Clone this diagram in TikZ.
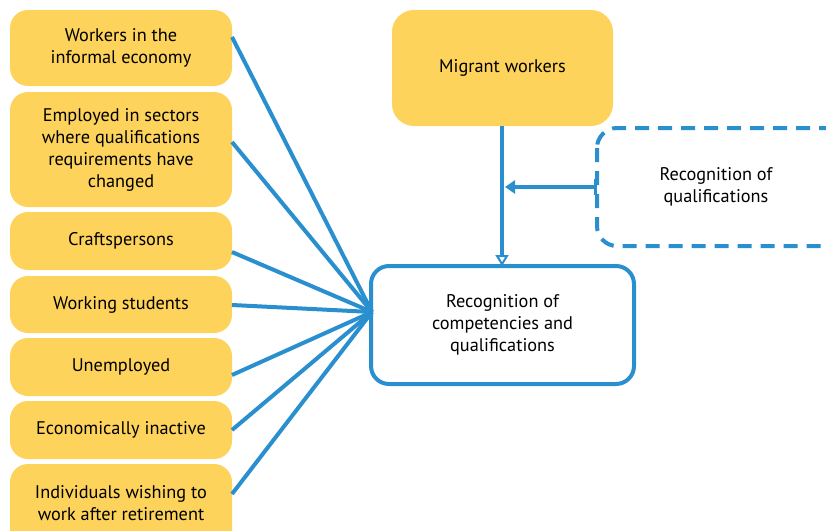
\documentclass[tikz,border=0pt]{standalone}
\usepackage{fontspec}
\setmainfont{PT Sans}
\usetikzlibrary{arrows.meta}
\definecolor{ylw}{HTML}{FDD35B}
\definecolor{blu}{HTML}{2A8FCE}
\begin{document}
\begin{tikzpicture}[x=1pt,y=-1pt,
  ybox/.style={fill=ylw,rounded corners=18pt},
  txt/.style={align=center,font=\fontsize{18.3}{22}\selectfont,inner sep=0pt},
  conn/.style={draw=blu,line width=4pt}]
\useasboundingbox (0,0) rectangle (826,530);
\begin{scope}
\clip (0,0) rectangle (826,530);
% left boxes
\path[ybox] (10,10) rectangle (232,86);
\node[txt] (a1) at (121,48) {Workers in the\\informal economy};
\path[ybox] (10,92) rectangle (232,207);
\node[txt] (a2) at (121,149.5) {Employed in sectors\\where qualifications\\requirements have\\changed};
\path[ybox] (10,212) rectangle (232,270);
\node[txt] (a3) at (121,241) {Craftspersons};
\path[ybox] (10,276) rectangle (232,333);
\node[txt] (a4) at (121,304.5) {Working students};
\path[ybox] (10,338) rectangle (232,396);
\node[txt] (a5) at (121,367) {Unemployed};
\path[ybox] (10,401) rectangle (232,459);
\node[txt] (a6) at (121,430) {Economically inactive};
\path[ybox] (10,464) rectangle (232,550);
\node[txt] (a7) at (121,503) {Individuals wishing to\\work after retirement};
% migrant
\path[ybox,rounded corners=22pt] (392,10) rectangle (613,126);
\node[txt] (m) at (502.5,68) {Migrant workers};
% dashed box
\draw[draw=blu,line width=4pt,dash pattern=on 14pt off 9pt,rounded corners=20pt] (597,128) rectangle (850,246);
\node[txt] (q) at (716,187) {Recognition of\\qualifications};
% center box
\draw[draw=blu,line width=4pt,fill=white,rounded corners=18pt] (371,266) rectangle (634,384);
\node[txt] (c) at (502.5,325) {Recognition of\\competencies and\\qualifications};
\coordinate (hub) at (372,312);
\coordinate (e1) at (232,37);
\coordinate (e2) at (232,142);
\coordinate (e3) at (232,252);
\coordinate (e4) at (232,305);
\coordinate (e5) at (232,375);
\coordinate (e6) at (232,430);
\coordinate (e7) at (232,494);
\foreach \e in {e1,e2,e3,e4,e5,e6,e7} \draw[conn] (\e) -- (hub);
\coordinate (mb) at (502,126);
\coordinate (ct) at (502,266);
\draw[conn,-{Triangle[open,length=11pt,width=13pt,line width=2pt]}] (mb) -- (ct);
\coordinate (ql) at (597,187);
\coordinate (mid) at (505,187);
\draw[conn,{Bar[width=16pt,line width=3pt]}-{Triangle[length=10pt,width=13pt]}] (ql) -- (mid);
\end{scope}
\end{tikzpicture}
\end{document}
